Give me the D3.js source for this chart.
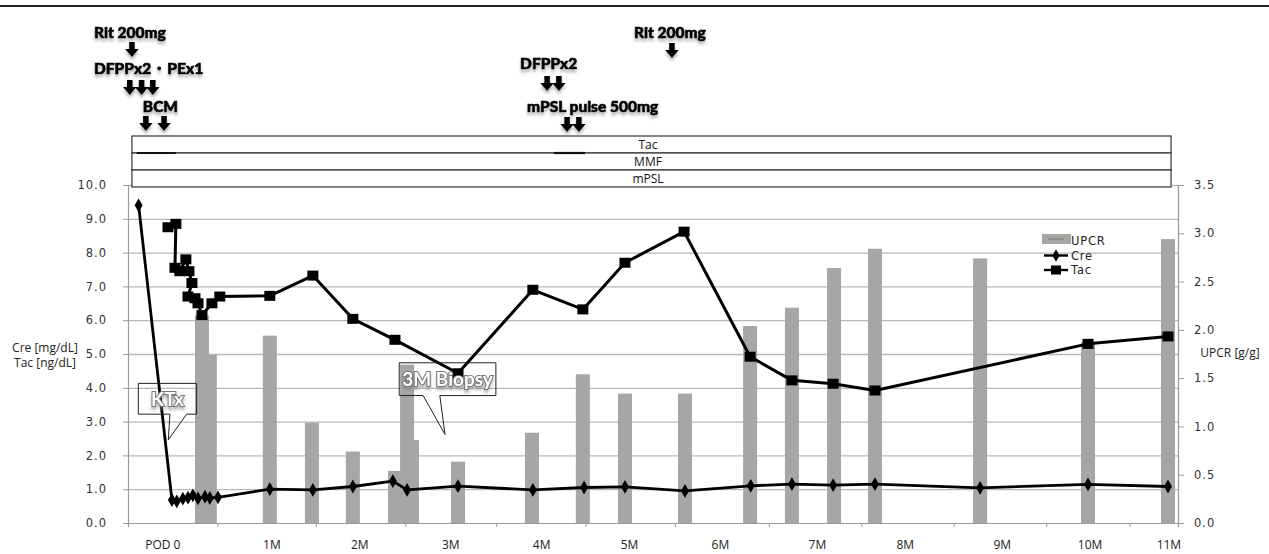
<!DOCTYPE html>
<html>
<head>
<meta charset="utf-8">
<script src="https://cdn.jsdelivr.net/npm/d3@7"></script>
<style>
  body { margin: 0; background: #fff; }
  text { font-family: 'Open Sans', sans-serif; }
</style>
</head>
<body>
<div id="chart"></div>
<script>
// days after transplant (POD) and values
const creDays   = [-11, 0, 1.6, 3.6, 5.3, 6.9, 8.6, 10.9, 12.5, 15.2, 32.3, 46.5, 59.7, 72.9, 77.6, 94.4, 119.1, 136, 149.5, 169.3, 191, 204.6, 218.2, 232, 266.7, 302.3, 328.7];
const creValues = [9.4, 0.68, 0.64, 0.72, 0.75, 0.82, 0.73, 0.78, 0.74, 0.76, 1.0, 0.98, 1.08, 1.24, 0.98, 1.09, 0.98, 1.05, 1.07, 0.95, 1.1, 1.15, 1.12, 1.15, 1.04, 1.14, 1.08];

const tacDays   = [-1.3, 1.3, 1.0, 2.6, 4.6, 5.6, 6.6, 5.3, 7.6, 8.6, 9.9, 13.2, 15.8, 32.3, 46.5, 59.7, 73.6, 94.4, 119.1, 135.6, 149.5, 169, 190.8, 204.6, 218.2, 232, 302.3, 328.7];
const tacValues = [8.75, 8.85, 7.55, 7.45, 7.8, 7.45, 7.1, 6.7, 6.65, 6.5, 6.15, 6.5, 6.7, 6.72, 7.32, 6.04, 5.42, 4.43, 6.9, 6.32, 7.7, 8.62, 4.92, 4.22, 4.12, 3.92, 5.3, 5.52];

const upcrDays   = [9.9, 12.5, 32.3, 46.2, 59.7, 79.2, 73.6, 77.6, 94.4, 118.8, 135.6, 149.5, 169.3, 190.8, 204.6, 218.5, 232, 266.7, 302.3, 328.7];
const upcrValues = [2.15, 1.74, 1.94, 1.04, 0.74, 0.86, 0.54, 1.64, 0.635, 0.935, 1.54, 1.34, 1.34, 2.04, 2.23, 2.64, 2.84, 2.74, 1.87, 2.94];

const monthLabels = ['POD 0', '1M', '2M', '3M', '4M', '5M', '6M', '7M', '8M', '9M', '10M', '11M'];
const monthDays   = [-3, 33, 62, 92, 122, 151, 181, 213, 242, 274, 303, 329];

const leftTicks  = [0, 1, 2, 3, 4, 5, 6, 7, 8, 9, 10];
const rightTicks = [0, 0.5, 1, 1.5, 2, 2.5, 3, 3.5];

const bandLabels = ['Tac', 'MMF', 'mPSL'];

// treatment annotations: label start day, label row y, arrow days
const events = [
  { text: 'Rit 200mg',        textDay: -25.7, textY: 32,  arrows: [-13.2],              arrowY: 42 },
  { text: 'DFPPx2・PEx1',     textDay: -25.7, textY: 68,  arrows: [-13.9, -10.0, -6.3], arrowY: 80 },
  { text: 'BCM',              textDay: -9.6,  textY: 106, arrows: [-8.6, -2.6],         arrowY: 116 },
  { text: 'DFPPx2',           textDay: 114.9, textY: 63,  arrows: [123.8, 127.7],       arrowY: 76 },
  { text: 'mPSL pulse 500mg', textDay: 117.2, textY: 106, arrows: [130.4, 134.3],       arrowY: 117 },
  { text: 'Rit 200mg',        textDay: 152.5, textY: 32,  arrows: [165],                arrowY: 43 }
];

const width = 1269, height = 554;
const margin = { top: 185, right: 91, bottom: 31, left: 128 };
const plotW = width - margin.left - margin.right;
const plotH = height - margin.top - margin.bottom;

const svg = d3.select('#chart').append('svg')
  .attr('width', width)
  .attr('height', height);

const defs = svg.append('defs');
defs.append('filter').attr('id', 'shadow')
  .attr('x', '-20%').attr('y', '-40%').attr('width', '140%').attr('height', '200%')
  .append('feDropShadow')
  .attr('dx', 0).attr('dy', 3).attr('stdDeviation', 1.4)
  .attr('flood-color', '#777').attr('flood-opacity', 0.55);

// top rule
svg.append('line')
  .attr('x1', 0).attr('x2', width).attr('y1', 6).attr('y2', 6)
  .attr('stroke', '#222').attr('stroke-width', 2);

const chart = svg.append('g')
  .attr('transform', `translate(${margin.left},${margin.top})`);

const x = d3.scaleLinear().domain([-14.5, 332]).range([0, plotW]);
const yL = d3.scaleLinear().domain([0, 10]).range([plotH, 0]);
const yR = d3.scaleLinear().domain([0, 3.5]).range([plotH, 0]);

// gridlines
chart.append('g')
  .call(d3.axisLeft(yL).tickValues(leftTicks.slice(1)).tickSize(-plotW).tickFormat(''))
  .call(g => g.select('.domain').remove())
  .call(g => g.selectAll('line').attr('stroke', '#b8b8b8').attr('stroke-width', 1.3));

// UPCR bars
const upcr = upcrDays.map((d, i) => ({ day: d, v: upcrValues[i] }));
chart.selectAll('.bar')
  .data(upcr)
  .enter()
  .append('rect')
  .classed('bar', true)
  .attr('x', d => x(d.day) - 7)
  .attr('width', 14)
  .attr('y', d => yR(d.v))
  .attr('height', d => plotH - yR(d.v))
  .attr('fill', '#a6a6a6');

// left axis
const leftAxis = chart.append('g')
  .call(d3.axisLeft(yL).tickValues(leftTicks).tickSize(5).tickPadding(16).tickFormat(d3.format('.1f')));
leftAxis.select('.domain').attr('stroke', '#9a9a9a').attr('stroke-width', 1.2);
leftAxis.selectAll('line').attr('stroke', '#9a9a9a');
leftAxis.selectAll('text')
  .style('font-family', 'DejaVu Sans').style('font-size', '11.5px')
  .style('letter-spacing', '1px').attr('fill', '#333');

// right axis
const rightAxis = chart.append('g')
  .attr('transform', `translate(${plotW},0)`)
  .call(d3.axisRight(yR).tickValues(rightTicks).tickSize(6).tickPadding(10).tickFormat(d3.format('.1f')));
rightAxis.select('.domain').attr('stroke', '#9a9a9a').attr('stroke-width', 1.2);
rightAxis.selectAll('line').attr('stroke', '#9a9a9a');
rightAxis.selectAll('text')
  .style('font-family', 'DejaVu Sans').style('font-size', '11.5px')
  .style('letter-spacing', '1px').attr('fill', '#333');

// bottom axis
const tickDays = monthDays.slice(0, -1).map((d, i) => (d + monthDays[i + 1]) / 2);
const xAxis = chart.append('g')
  .attr('transform', `translate(0,${plotH})`)
  .call(d3.axisBottom(x).tickValues(tickDays).tickSize(4).tickFormat(''));
xAxis.select('.domain').attr('stroke', '#9a9a9a').attr('stroke-width', 1.2);
xAxis.selectAll('line').attr('stroke', '#9a9a9a');

chart.append('g')
  .selectAll('text')
  .data(monthLabels)
  .enter()
  .append('text')
  .attr('x', (d, i) => x(monthDays[i]))
  .attr('y', plotH + 26)
  .attr('text-anchor', 'middle')
  .style('font-size', '12px')
  .attr('fill', '#222')
  .text(d => d);

// lines
const line = d3.line().x(d => x(d.day)).y(d => yL(d.v));
const cre = creDays.map((d, i) => ({ day: d, v: creValues[i] }));
const tac = tacDays.map((d, i) => ({ day: d, v: tacValues[i] }));

chart.append('path')
  .datum(cre)
  .attr('d', line)
  .attr('fill', 'none')
  .attr('stroke', '#000')
  .attr('stroke-width', 2.8)
  .attr('stroke-linejoin', 'round');

chart.selectAll('.cre')
  .data(cre)
  .enter()
  .append('path')
  .classed('cre', true)
  .attr('d', d3.symbol(d3.symbolDiamond, 55))
  .attr('transform', d => `translate(${x(d.day)},${yL(d.v)})`)
  .attr('fill', '#000');

chart.append('path')
  .datum(tac)
  .attr('d', line)
  .attr('fill', 'none')
  .attr('stroke', '#000')
  .attr('stroke-width', 3)
  .attr('stroke-linejoin', 'round');

chart.selectAll('.tac')
  .data(tac)
  .enter()
  .append('rect')
  .classed('tac', true)
  .attr('x', d => x(d.day) - 5.5)
  .attr('y', d => yL(d.v) - 5)
  .attr('width', 11)
  .attr('height', 10)
  .attr('fill', '#000');

// callouts
function callout(box, tip, label, size) {
  const l = x(box[0]), r = x(box[1]), t = yL(box[2]), b = yL(box[3]);
  const b1 = x(tip[0]), b2 = x(tip[1]), tx = x(tip[2]), ty = yL(tip[3]);
  chart.append('path')
    .attr('d', `M${l},${t}H${r}V${b}H${b2}L${tx},${ty}L${b1},${b}H${l}Z`)
    .attr('fill', 'none')
    .attr('stroke', '#222')
    .attr('stroke-width', 1);
  chart.append('text')
    .attr('x', (l + r) / 2)
    .attr('y', (t + b) / 2 + size * 0.36)
    .attr('text-anchor', 'middle')
    .style('font-family', 'Lato')
    .style('font-weight', 'bold')
    .style('font-size', size + 'px')
    .style('paint-order', 'stroke')
    .attr('fill', '#fff')
    .attr('stroke', '#777')
    .attr('stroke-width', 2)
    .attr('filter', 'url(#shadow)')
    .text(label);
}
callout([-11.1, 8.15, 4.13, 3.22], [-0.66, 4.85, -1.2, 2.46], 'KTx', 19);
callout([75, 106.9, 4.74, 3.77], [82.9, 88.4, 90.1, 2.62], '3M Biopsy', 19);

// legend
const legend = svg.append('g').attr('transform', 'translate(1042,234)');
legend.append('rect').attr('width', 29).attr('height', 10).attr('fill', '#a6a6a6');
legend.append('line').attr('x1', 6).attr('x2', 22).attr('y1', 5).attr('y2', 5)
  .attr('stroke', '#6d7d6d').attr('stroke-width', 1);
legend.append('line').attr('x1', 2).attr('x2', 26).attr('y1', 21.5).attr('y2', 21.5)
  .attr('stroke', '#000').attr('stroke-width', 2.4);
legend.append('path').attr('d', d3.symbol(d3.symbolDiamond, 45))
  .attr('transform', 'translate(14,21.5)').attr('fill', '#000');
legend.append('line').attr('x1', 2).attr('x2', 26).attr('y1', 36).attr('y2', 36)
  .attr('stroke', '#000').attr('stroke-width', 2.4);
legend.append('rect').attr('x', 9).attr('y', 31.5).attr('width', 10).attr('height', 9).attr('fill', '#000');
legend.selectAll('.lt')
  .data(['UPCR', 'Cre', 'Tac'])
  .enter()
  .append('text')
  .attr('x', 29)
  .attr('y', (d, i) => 11 + i * 14.7)
  .style('font-family', 'DejaVu Sans')
  .style('font-size', '11.5px')
  .style('letter-spacing', '0.8px')
  .attr('fill', '#222')
  .text(d => d);

// axis titles
svg.append('text').attr('x', 45).attr('y', 352).attr('text-anchor', 'middle')
  .style('font-size', '12px').attr('fill', '#222').text('Cre [mg/dL]');
svg.append('text').attr('x', 45).attr('y', 367).attr('text-anchor', 'middle')
  .style('font-size', '12px').attr('fill', '#222').text('Tac [ng/dL]');
svg.append('text').attr('x', 1230).attr('y', 357).attr('text-anchor', 'middle')
  .style('font-size', '12px').attr('fill', '#222').text('UPCR [g/g]');

// drug bands
const band = svg.append('g');
const bandL = margin.left + x(-13.2), bandR = margin.left + x(329.7);
const bandY = d3.scaleBand().domain(bandLabels).range([136, 187]);
band.selectAll('rect')
  .data(bandLabels)
  .enter()
  .append('rect')
  .attr('x', bandL)
  .attr('y', d => bandY(d))
  .attr('width', bandR - bandL)
  .attr('height', bandY.bandwidth())
  .attr('fill', '#fff')
  .attr('stroke', '#333')
  .attr('stroke-width', 1.2);
band.selectAll('text')
  .data(bandLabels)
  .enter()
  .append('text')
  .attr('x', 648)
  .attr('y', d => bandY(d) + bandY.bandwidth() / 2 + 4.5)
  .attr('text-anchor', 'middle')
  .style('font-size', '12px')
  .attr('fill', '#111')
  .text(d => d);
[[-11.6, 1.3], [126, 136.3]].forEach(s => {
  band.append('line')
    .attr('x1', margin.left + x(s[0])).attr('x2', margin.left + x(s[1]))
    .attr('y1', bandY('MMF')).attr('y2', bandY('MMF'))
    .attr('stroke', '#111').attr('stroke-width', 2.2);
});

// event annotations
const ann = svg.append('g');
function arrow(cx, top) {
  const p = `M${cx - 2.8},${top}H${cx + 2.8}V${top + 7}H${cx + 6.8}L${cx},${top + 15}L${cx - 6.8},${top + 7}H${cx - 2.8}Z`;
  ann.append('path').attr('d', p).attr('fill', '#000').attr('filter', 'url(#shadow)');
}
events.forEach(e => {
  ann.append('text')
    .attr('x', margin.left + x(e.textDay))
    .attr('y', e.textY + 5.5)
    .style('font-family', 'Lato')
    .style('font-weight', '900')
    .style('font-size', '15.5px')
    .attr('fill', '#000')
    .attr('stroke', '#000')
    .attr('stroke-width', 0.7)
    .attr('filter', 'url(#shadow)')
    .text(e.text);
  e.arrows.forEach(a => arrow(margin.left + x(a), e.arrowY));
});
</script>
</body>
</html>
